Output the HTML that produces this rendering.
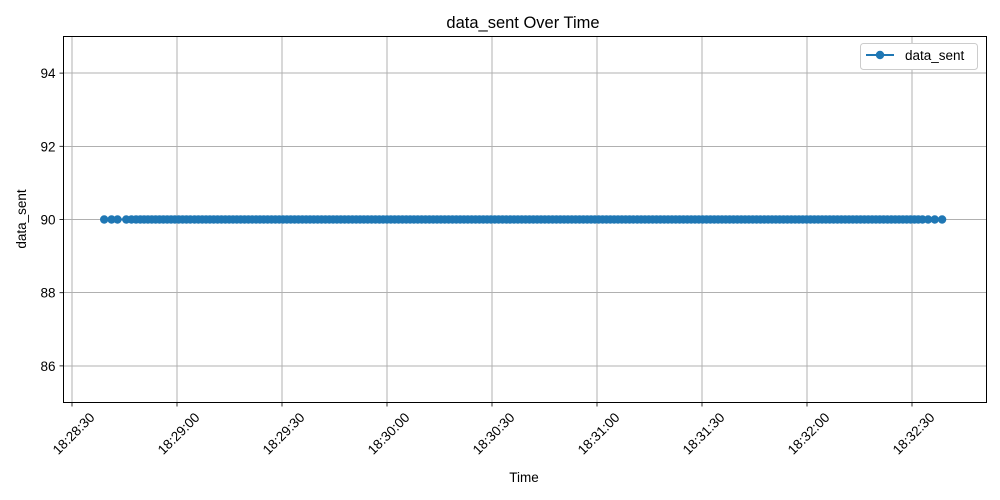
<!DOCTYPE html>
<html><head><meta charset="utf-8"><style>
html,body{margin:0;padding:0;background:#fff;}
svg{display:block;font-family:"Liberation Sans","DejaVu Sans",sans-serif;}
</style></head><body>
<svg id="chart" width="1000" height="500" xmlns="http://www.w3.org/2000/svg">
<rect x="0" y="0" width="1000" height="500" fill="#fff"/>
<text x="523" y="28" font-size="16.5" text-anchor="middle" fill="#000">data_sent Over Time</text>
<g id="grid" shape-rendering="crispEdges"></g>
<g id="xticks"></g>
<g id="yticks"></g>
<g id="series"></g>
<rect x="63.5" y="36.5" width="923" height="366" fill="none" stroke="#000" stroke-width="1" shape-rendering="crispEdges"/>
<text x="524" y="482" font-size="13.5" text-anchor="middle">Time</text>
<text x="26" y="219" font-size="13.5" text-anchor="middle" transform="rotate(-90 26 219)">data_sent</text>
<g>
<rect x="860.5" y="43.5" width="117" height="26" rx="3" fill="#fff" stroke="#ccc"/>
<line x1="866" y1="55" x2="894" y2="55" stroke="#1f77b4" stroke-width="2"/>
<circle cx="880" cy="55" r="4.2" fill="#1f77b4"/>
<text x="905" y="60" font-size="13.5">data_sent</text>
</g>
</svg>
<script>
// seconds after 18:28:30
const times = [9.2,11.3,13.0,15.5,17.0,18.3,19.5,20.6,21.7,22.8,23.9,25.0,26.1,27.2,28.3,29.4,30.5,31.6,32.7,33.8,35.0,36.1,37.2,38.3,39.4,40.5,41.6,42.7,43.8,44.9,46.0,47.1,48.2,49.3,50.4,51.5,52.6,53.7,54.8,55.9,57.0,58.1,59.2,60.3,61.4,62.5,63.6,64.7,65.8,66.9,68.0,69.1,70.2,71.3,72.4,73.5,74.6,75.7,76.8,77.9,79.0,80.1,81.2,82.3,83.4,84.5,85.6,86.7,87.8,88.9,90.0,91.1,92.2,93.3,94.4,95.5,96.6,97.7,98.8,99.9,101.0,102.1,103.2,104.3,105.4,106.5,107.6,108.7,109.8,110.9,112.0,113.1,114.2,115.3,116.4,117.5,118.6,119.7,120.8,121.9,123.0,124.1,125.2,126.3,127.4,128.5,129.6,130.7,131.8,132.9,134.0,135.1,136.2,137.3,138.4,139.5,140.6,141.7,142.8,143.9,145.0,146.1,147.2,148.3,149.4,150.5,151.6,152.7,153.8,154.9,156.0,157.1,158.2,159.3,160.4,161.5,162.6,163.7,164.8,165.9,167.0,168.1,169.2,170.3,171.4,172.5,173.6,174.7,175.8,176.9,178.0,179.1,180.2,181.3,182.4,183.5,184.6,185.7,186.8,187.9,189.0,190.1,191.2,192.3,193.4,194.5,195.6,196.7,197.8,198.9,200.0,201.1,202.2,203.3,204.4,205.5,206.6,207.7,208.8,209.9,211.0,212.1,213.2,214.3,215.4,216.5,217.6,218.7,219.8,220.9,222.0,223.1,224.2,225.3,226.4,227.5,228.6,229.7,230.8,231.9,233.0,234.1,235.2,236.3,237.4,238.5,239.6,240.7,241.8,243.0,244.6,246.5,248.6];
const values = times.map(() => 90);
const xTickSecs = [0,30,60,90,120,150,180,210,240];
const xTickLabels = ["18:28:30","18:29:00","18:29:30","18:30:00","18:30:30","18:31:00","18:31:30","18:32:00","18:32:30"];
const yTicks = [86,88,90,92,94];

const NS="http://www.w3.org/2000/svg";
const X0=72, XS=3.5, YT=36.5, YB=402.5, YMIN=85, YMAX=95, PL=63.5, PR=986.5;
const xPos = s => X0 + s*XS;
const yPos = v => YB - (v-YMIN)/(YMAX-YMIN)*(YB-YT);
function mk(tag, attrs, parent){const e=document.createElementNS(NS,tag);for(const k in attrs)e.setAttribute(k,attrs[k]);parent.appendChild(e);return e;}
const grid=document.getElementById('grid'), xt=document.getElementById('xticks'), yt=document.getElementById('yticks'), ser=document.getElementById('series');
xTickSecs.forEach((s,i)=>{
  const x=xPos(s);
  const g=mk('line',{x1:x,x2:x,y1:YT,y2:YB,stroke:'#b0b0b0','stroke-width':1},grid);
  
  
  const t=mk('line',{x1:x,x2:x,y1:YB,y2:YB+4,stroke:'#000','stroke-width':0.8},xt);
  
  
  const lb=mk('text',{x:x+2,y:438,'font-size':13.5,'text-anchor':'middle',transform:`rotate(-45 ${x+2} 434)`},xt);
  lb.textContent=xTickLabels[i];
  
  
});
yTicks.forEach(v=>{
  const y=yPos(v);
  const g=mk('line',{x1:PL,x2:PR,y1:y,y2:y,stroke:'#b0b0b0','stroke-width':1},grid);
  
  
  const t=mk('line',{x1:PL-4,x2:PL,y1:y,y2:y,stroke:'#000','stroke-width':0.8},yt);
  
  
  const lb=mk('text',{x:PL-8,y:y+5,'font-size':13.5,'text-anchor':'end'},yt);
  lb.textContent=String(v);
  
  
});
const pts=times.map((s,i)=>xPos(s)+','+yPos(values[i])).join(' ');
const pl=mk('polyline',{points:pts,fill:'none',stroke:'#1f77b4','stroke-width':2},ser);


times.forEach((s,i)=>{
  const c=mk('circle',{cx:xPos(s),cy:yPos(values[i]),r:4.2,fill:'#1f77b4'},ser);
  
  
});
</script>
</body></html>
